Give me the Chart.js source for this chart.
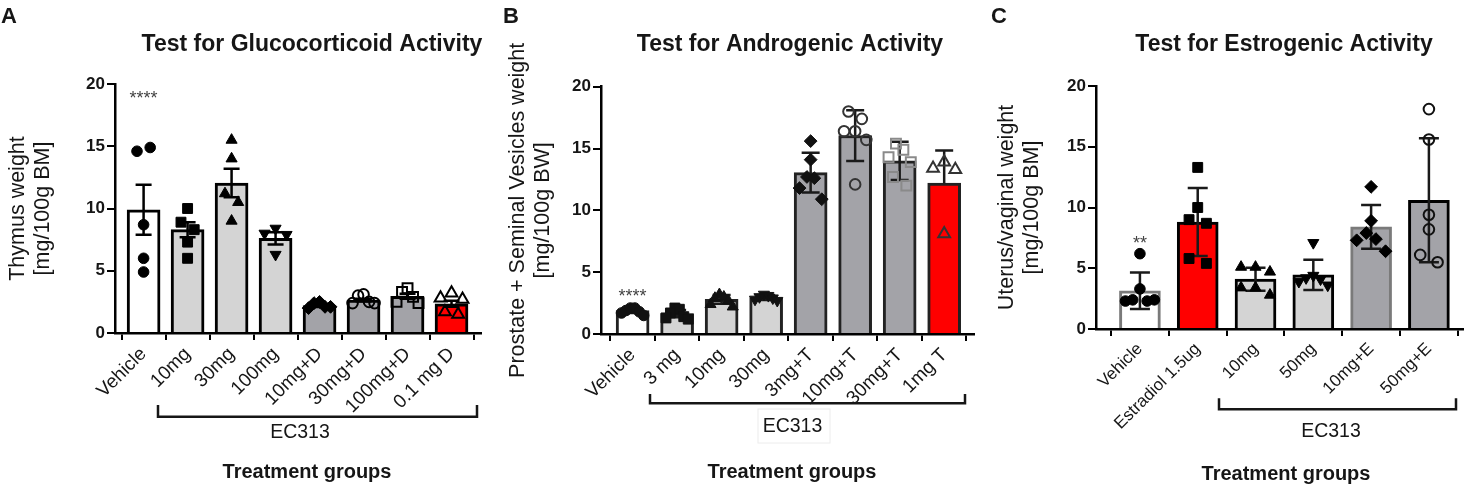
<!DOCTYPE html>
<html>
<head>
<meta charset="utf-8">
<title>EC313 activity tests</title>
<script src="https://cdn.jsdelivr.net/npm/chart.js@4.4.0/dist/chart.umd.min.js"></script>
<style>
  html, body { margin: 0; padding: 0; background: #fff; }
  #wrap { position: relative; width: 1472px; height: 486px; overflow: hidden; }
  .panel { position: absolute; top: 0; height: 486px; }
</style>
</head>
<body>
<div id="wrap">
  <div class="panel" style="left:0;width:490px"><canvas id="chart-a"></canvas></div>
  <div class="panel" style="left:490px;width:500px"><canvas id="chart-b"></canvas></div>
  <div class="panel" style="left:990px;width:482px"><canvas id="chart-c"></canvas></div>
</div>
<script>
// A - glucocorticoid test (mean ± SEM)
const labelsA = ["Vehicle", "10mg", "30mg", "100mg", "10mg+D", "30mg+D", "100mg+D", "0.1 mg D"];
const meansA = [9.9, 8.3, 12.05, 7.6, 2.2, 2.65, 2.95, 2.35];
const errA = [2.0, 0.6, 1.15, 0.5, 0.1, 0.1, 0.2, 0.25];
const pointsA = [
    [14.6, 14.9, 8.7, 6.0, 4.9],
    [10.0, 8.9, 8.3, 7.3, 6.0],
    [15.5, 14.0, 11.2, 10.5, 9.0],
    [8.4, 8.0, 7.9, 6.3],
    [2.5, 2.4, 2.1, 2.0, 2.1],
    [3.1, 3.0, 2.5, 2.4, 2.4],
    [3.6, 3.3, 2.9, 2.5, 2.4],
    [3.2, 2.8, 2.7, 1.7, 1.5]
];

// B - androgenic test (mean ± SD)
const labelsB = ["Vehicle", "3 mg", "10mg", "30mg", "3mg+T", "10mg+T", "30mg+T", "1mg T"];
const meansB = [1.9, 1.65, 2.8, 2.95, 13.05, 16.05, 14.0, 12.2];
const errB = [0.2, 0.3, 0.35, 0.2, 1.6, 2.05, 1.55, 2.65];
const errLowB = [0.2, 0.3, 0.35, 0.2, 1.6, 2.05, 1.55, 0];
const pointsB = [
    [2.1, 2.1, 1.9, 1.8, 1.7, 1.5],
    [2.1, 2.0, 1.7, 1.4, 1.3, 1.2],
    [3.2, 3.0, 2.9, 2.7, 2.4, 2.2],
    [3.2, 3.1, 3.0, 2.9, 2.8, 2.7],
    [15.6, 14.1, 12.7, 12.6, 11.8, 10.9],
    [18.0, 17.4, 16.4, 16.4, 15.7, 12.1],
    [15.4, 14.9, 14.3, 13.9, 12.7, 12.0],
    [13.9, 13.4, 13.3, 8.1]
];

// C - estrogenic test (mean ± SD)
const labelsC = ["Vehicle", "Estradiol 1.5ug", "10mg", "50mg", "10mg+E", "50mg+E"];
const meansC = [3.15, 8.8, 4.1, 4.45, 8.4, 10.6];
const errC = [1.5, 2.8, 0.95, 1.25, 1.8, 5.1];
const pointsC = [
    [6.2, 3.3, 2.4, 2.3, 2.3, 2.4],
    [13.3, 10.0, 9.0, 8.7, 5.8, 5.4],
    [5.1, 5.1, 4.7, 3.4, 3.4, 2.8],
    [7.1, 4.4, 4.2, 4.1, 3.9, 3.6],
    [11.7, 8.9, 7.9, 7.4, 7.3, 6.4],
    [18.1, 15.6, 9.4, 8.2, 6.1, 5.5]
];

// significance marks above the vehicle groups
const sigLabels = ["****", "****", "**"];
const sigHeights = [19.1, 3.3, 7.3];

const FONT = "'Liberation Sans', Arial, sans-serif";
const INK = "#161616";
const H = 486;
const WHITE = "#ffffff", LIGHT = "#d4d4d4", DARK = "#a3a3a8", RED = "#ff0000";

// marker shapes
const MK = {
    dot:     { s: "circle",   rot: 0,   r: 5.3, open: false },
    square:  { s: "rect",     rot: 0,   r: 7,   open: false },
    tri:     { s: "triangle", rot: 0,   r: 6.4, open: false },
    down:    { s: "triangle", rot: 180, r: 6.4, open: false },
    diamond: { s: "rectRot",  rot: 0,   r: 6.4, open: false },
    ring:    { s: "circle",   rot: 0,   r: 5.3, open: true },
    box:     { s: "rect",     rot: 0,   r: 7,   open: true },
    delta:   { s: "triangle", rot: 0,   r: 6.8, open: true }
};

Chart.defaults.font.family = FONT;
Chart.defaults.color = INK;

// spread points that sit close together across the bar,
// slots are handed out centre-first in the order the values are listed
function spread(vals, thr) {
    const order = vals.map((v, i) => i).sort((a, b) => vals[a] - vals[b]);
    const out = new Array(vals.length).fill(0);
    let cluster = [order[0]];
    const flush = () => {
        const m = cluster.length;
        const step = m > 1 ? Math.min(0.3, 0.5 / (m - 1)) : 0;
        const slots = [];
        for (let j = 0; j < m; j++) slots.push((j - (m - 1) / 2) * step);
        slots.sort((a, b) => Math.abs(a) - Math.abs(b) || a - b);
        cluster.slice().sort((a, b) => a - b).forEach((k, j) => { out[k] = slots[j]; });
    };
    for (let j = 1; j < order.length; j++) {
        if (vals[order[j]] - vals[cluster[cluster.length - 1]] < thr) cluster.push(order[j]);
        else { flush(); cluster = [order[j]]; }
    }
    flush();
    return out;
}

function drawErrors(chart, cfg) {
    const { ctx } = chart;
    const x = chart.scales.x, y = chart.scales.y;
    ctx.save();
    ctx.strokeStyle = cfg.errColor;
    ctx.lineWidth = 2.5;
    cfg.means.forEach((m, i) => {
        const cx = x.getPixelForValue(i);
        const top = y.getPixelForValue(m + cfg.up[i]);
        const bot = y.getPixelForValue(m - cfg.down[i]);
        const h = cfg.cap / 2;
        ctx.beginPath();
        ctx.moveTo(cx, top); ctx.lineTo(cx, bot);
        ctx.moveTo(cx - h, top); ctx.lineTo(cx + h, top);
        if (cfg.down[i] > 0) { ctx.moveTo(cx - h, bot); ctx.lineTo(cx + h, bot); }
        ctx.stroke();
    });
    ctx.restore();
}

function drawDecor(chart, cfg) {
    const { ctx, chartArea } = chart;
    const x = chart.scales.x, y = chart.scales.y;
    ctx.save();
    ctx.fillStyle = INK;
    ctx.textBaseline = "middle";

    ctx.textAlign = "left";
    ctx.font = `bold 22px ${FONT}`;
    ctx.fillText(cfg.letter, cfg.letterX, 17);

    ctx.textAlign = "center";
    ctx.font = `bold 23px ${FONT}`;
    ctx.fillText(cfg.title, cfg.titleX, 45);

    // axis title, two lines
    ctx.font = `21.5px ${FONT}`;
    const midY = (chartArea.top + chartArea.bottom) / 2;
    cfg.yTitle.forEach((line, k) => {
        ctx.save();
        ctx.translate(cfg.yTitleX[k], midY);
        ctx.rotate(-Math.PI / 2);
        ctx.fillText(line, 0, 0);
        ctx.restore();
    });

    // stars
    ctx.font = `18px ${FONT}`;
    ctx.fillStyle = "#444";
    ctx.fillText(cfg.sig, x.getPixelForValue(0), y.getPixelForValue(cfg.sigY) + 4);

    // EC313 bracket
    const b = cfg.bracket;
    ctx.strokeStyle = INK;
    ctx.lineWidth = 2.5;
    ctx.beginPath();
    ctx.moveTo(b.x1, b.top); ctx.lineTo(b.x1, b.y);
    ctx.lineTo(b.x2, b.y); ctx.lineTo(b.x2, b.top);
    ctx.stroke();

    if (cfg.ecBox) {
        ctx.strokeStyle = "#ececec";
        ctx.lineWidth = 1;
        ctx.strokeRect(cfg.ecBox[0], cfg.ecBox[1], cfg.ecBox[2], cfg.ecBox[3]);
    }

    ctx.fillStyle = INK;
    ctx.font = `19.5px ${FONT}`;
    ctx.fillText("EC313", cfg.ec[0], cfg.ec[1]);

    ctx.font = `bold 20px ${FONT}`;
    ctx.fillText("Treatment groups", cfg.tg[0], cfg.tg[1]);
    ctx.restore();
}

function makePanel(cfg) {
    const pts = [];
    cfg.points.forEach((grp, g) => {
        const dx = spread(grp, 1.0);
        grp.forEach((v, k) => pts.push({ x: g + dx[k], y: v, g }));
    });
    const mk = c => MK[cfg.markers[c.raw.g]];
    const edge = c => cfg.markerEdge[c.raw.g];

    new Chart(document.getElementById(cfg.id), {
        type: "bar",
        data: {
            datasets: [
                {
                    type: "scatter",
                    data: pts,
                    order: 1,
                    pointStyle: c => mk(c).s,
                    rotation: c => mk(c).rot,
                    pointRadius: c => mk(c).r,
                    borderColor: edge,
                    backgroundColor: c => mk(c).open ? "rgba(0,0,0,0)" : edge(c),
                    borderWidth: c => mk(c).open ? 2 : 1
                },
                {
                    type: "bar",
                    data: cfg.means.map((m, i) => ({ x: i, y: m })),
                    order: 2,
                    backgroundColor: cfg.fills,
                    borderColor: cfg.edges,
                    borderWidth: 3,
                    borderSkipped: "start",
                    barThickness: cfg.barThickness
                }
            ]
        },
        options: {
            responsive: true,
            maintainAspectRatio: false,
            animation: false,
            events: [],
            layout: { padding: { top: cfg.plot.top, right: cfg.W - cfg.plot.right, left: 0, bottom: 0 } },
            plugins: { legend: { display: false }, tooltip: { enabled: false } },
            scales: {
                x: {
                    type: "linear",
                    min: cfg.xMin,
                    max: cfg.xMax,
                    offset: false,
                    afterBuildTicks: s => { s.ticks = cfg.labels.map((_, i) => ({ value: i })); },
                    afterFit: s => { s.height = H - cfg.plot.bottom; },
                    ticks: {
                        autoSkip: false,
                        maxRotation: 45,
                        minRotation: 45,
                        padding: 3,
                        color: INK,
                        font: { size: cfg.labelSize },
                        callback: v => cfg.labels[v]
                    },
                    grid: { drawOnChartArea: false, tickLength: 7, color: "#000", lineWidth: 2 },
                    border: { color: "#000", width: 2.5 }
                },
                y: {
                    min: 0,
                    max: 20,
                    afterFit: s => { s.width = cfg.plot.left; },
                    ticks: { stepSize: 5, padding: 2, color: INK, font: { size: 17, weight: "bold" } },
                    grid: { drawOnChartArea: false, tickLength: 8, color: "#000", lineWidth: 2 },
                    border: { color: "#000", width: 2.5 }
                }
            }
        },
        plugins: [{
            id: "decor",
            afterDatasetDraw(chart, args) { if (args.index === 1) drawErrors(chart, cfg); },
            afterDraw(chart) { drawDecor(chart, cfg); }
        }]
    });
}

makePanel({
    id: "chart-a", W: 490,
    plot: { left: 115, right: 487, top: 84, bottom: 333 },
    xMin: -0.65, xMax: 7.67, barThickness: 33, cap: 16, errColor: "#000", labelSize: 19,
    labels: labelsA, means: meansA, up: errA, down: errA, points: pointsA,
    fills: [WHITE, LIGHT, LIGHT, LIGHT, DARK, DARK, DARK, RED],
    edges: "#000",
    markers: ["dot", "square", "tri", "down", "diamond", "ring", "box", "delta"],
    markerEdge: ["#000", "#000", "#000", "#000", "#000", "#000", "#000", "#000"],
    letter: "A", letterX: 1, title: "Test for Glucocorticoid Activity", titleX: 312,
    yTitle: ["Thymus weight", "[mg/100g BM]"], yTitleX: [18, 43],
    sig: sigLabels[0], sigY: sigHeights[0],
    bracket: { x1: 158, x2: 477, y: 416.7, top: 405 },
    ec: [300, 432.5], tg: [307, 472.5]
});

makePanel({
    id: "chart-b", W: 500,
    plot: { left: 111, right: 484, top: 86.7, bottom: 334 },
    xMin: -0.71, xMax: 7.67, barThickness: 33, cap: 18, errColor: "#1a1a1a", labelSize: 19,
    labels: labelsB, means: meansB, up: errB, down: errLowB, points: pointsB,
    fills: [WHITE, LIGHT, LIGHT, LIGHT, DARK, DARK, DARK, RED],
    edges: "#222",
    markers: ["dot", "square", "tri", "down", "diamond", "ring", "box", "delta"],
    markerEdge: ["#111", "#111", "#111", "#111", "#111", "#333", "#8a8a8a", "#333"],
    letter: "B", letterX: 13, title: "Test for Androgenic Activity", titleX: 300,
    yTitle: ["Prostate + Seminal Vesicles weight", "[mg/100g BW]"], yTitleX: [28, 53],
    sig: sigLabels[1], sigY: sigHeights[1],
    bracket: { x1: 160, x2: 475, y: 403.3, top: 394 },
    ecBox: [268, 409, 72, 34],
    ec: [302.5, 426.7], tg: [302, 472.5]
});

makePanel({
    id: "chart-c", W: 482,
    plot: { left: 106, right: 473, top: 86, bottom: 329 },
    xMin: -0.76, xMax: 5.59, barThickness: 41, cap: 20, errColor: "#1a1a1a", labelSize: 17,
    labels: labelsC, means: meansC, up: errC, down: errC, points: pointsC,
    fills: [WHITE, RED, LIGHT, LIGHT, DARK, DARK],
    edges: ["#7a7a7a", "#000", "#000", "#000", "#7a7a7a", "#000"],
    markers: ["dot", "square", "tri", "down", "diamond", "ring"],
    markerEdge: ["#000", "#000", "#000", "#000", "#000", "#111"],
    letter: "C", letterX: 1, title: "Test for Estrogenic Activity", titleX: 294,
    yTitle: ["Uterus/vaginal weight", "[mg/100g BM]"], yTitleX: [17, 42],
    sig: sigLabels[2], sigY: sigHeights[2],
    bracket: { x1: 229, x2: 466, y: 409.3, top: 398.3 },
    ec: [341, 431.7], tg: [296, 474]
});
</script>
</body>
</html>
